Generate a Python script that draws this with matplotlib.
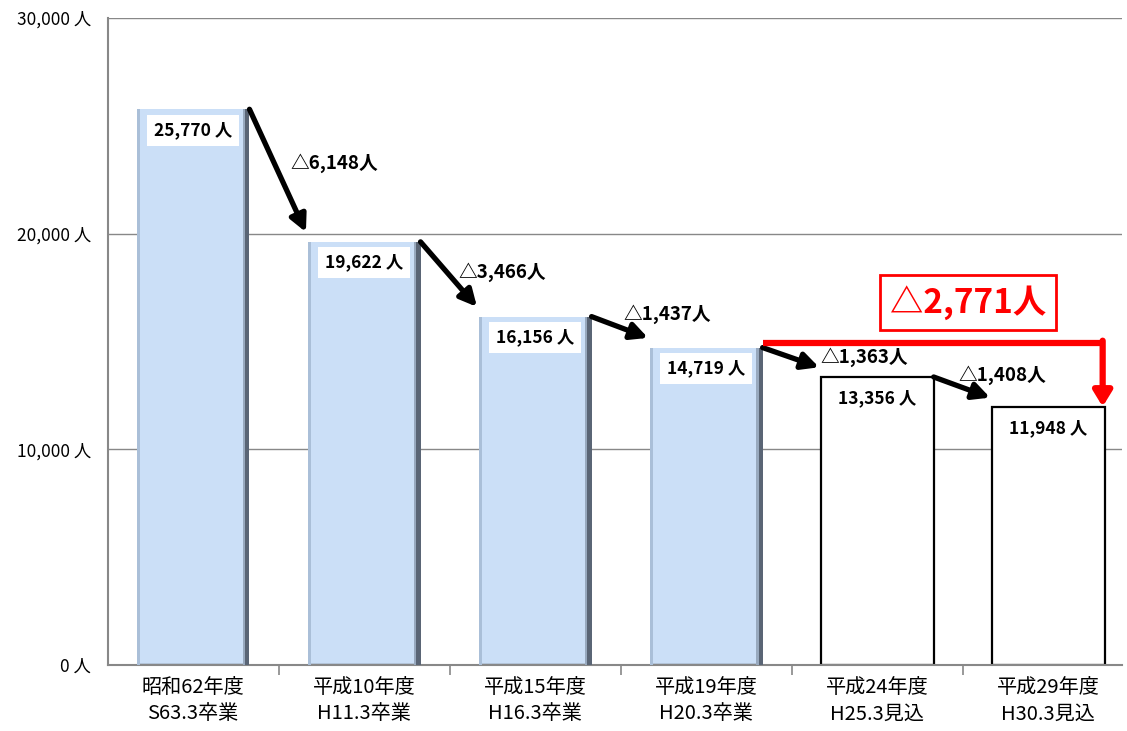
import matplotlib
matplotlib.use("Agg")
import matplotlib.pyplot as plt
import numpy as np

plt.rcParams['font.family'] = ['Noto Sans CJK JP', 'DejaVu Sans']

# data
categories = ["昭和62年度\nS63.3卒業", "平成10年度\nH11.3卒業", "平成15年度\nH16.3卒業",
              "平成19年度\nH20.3卒業", "平成24年度\nH25.3見込", "平成29年度\nH30.3見込"]
values = [25770, 19622, 16156, 14719, 13356, 11948]
actual = [True, True, True, True, False, False]
yticks = [0, 10000, 20000, 30000]
ytick_labels = ["0 人", "10,000 人", "20,000 人", "30,000 人"]

fig = plt.figure(figsize=(11.27, 7.31), dpi=100)
ax = fig.add_axes([0.0954, 0.0903, 0.9, 0.885])

x = np.arange(len(values))
w = 0.66
blue = [v if a else 0 for v, a in zip(values, actual)]
white = [v if not a else 0 for v, a in zip(values, actual)]

# blue bars with a rough bevel
ax.bar(x, blue, width=w, color='#cbdff7', edgecolor='none', zorder=2)
ax.bar(x - w/2 + 0.01, blue, width=0.02, color='#aabfd8', edgecolor='none', zorder=3)
ax.bar(x + w/2 - 0.012, blue, width=0.024, color='#5a6575', edgecolor='none', zorder=3)
ax.bar(x + w/2 - 0.032, blue, width=0.016, color='#98a9be', edgecolor='none', zorder=3)
# projected bars
ax.bar(x, white, width=w, color='white', edgecolor='black', linewidth=1.6, zorder=2)

# value labels
for i, v in enumerate(values):
    ax.annotate(f"{v:,} 人", (i, v), xytext=(0, -15), textcoords='offset points',
                ha='center', va='center', fontsize=12.5, fontweight='bold', zorder=5,
                bbox=dict(boxstyle='square,pad=0.38', fc='white', ec='none'))

# step arrows + differences
for i in range(len(values) - 1):
    ax.annotate("", xy=(i + 1 - w/2 - 0.01, values[i + 1] + 450),
                xytext=(i + w/2, values[i]),
                arrowprops=dict(arrowstyle='-|>,head_length=1.0,head_width=0.5',
                                color='black', lw=3.8, shrinkA=0, shrinkB=0),
                zorder=6)

dlabel_pos = [(0.567, 23270), (1.55, 18220), (2.515, 16270), (3.667, 14280), (4.474, 13445)]
for i, (px, py) in enumerate(dlabel_pos):
    d = values[i] - values[i + 1]
    ax.text(px, py, f"△{d:,}人", fontsize=13.5, fontweight='bold', ha='left', va='center', zorder=6)

# overall decrease (red)
ry = values[3] + 210
x_end = 5 + w/2 - 0.012
ax.plot([3 + w/2, x_end + 0.012], [ry, ry], color='red', lw=4.5, solid_capstyle='butt', zorder=7)
ax.annotate("", xy=(x_end, values[5] + 30), xytext=(x_end, ry + 110),
            arrowprops=dict(arrowstyle='-|>,head_length=0.9,head_width=0.55',
                            color='red', lw=4.5, shrinkA=0, shrinkB=0), zorder=7)
total = values[3] - values[5]
ax.text(4.532, 16800, f"△{total:,}人", color='red', fontsize=24, fontweight='bold',
        ha='center', va='center', zorder=7,
        bbox=dict(boxstyle='square,pad=0.3', fc='white', ec='red', lw=2))

# axes
ax.set_xlim(-0.5, 5.43)
ax.set_ylim(0, 30000)
ax.set_yticks(yticks)
ax.set_yticklabels(ytick_labels, fontsize=12.5)
ax.tick_params(axis='y', length=0, pad=12)
ax.set_xticks(x)
ax.set_xticklabels(categories, fontsize=14.5, linespacing=1.3)
ax.tick_params(axis='x', length=0, pad=9)
ax.set_xticks(np.arange(0.5, len(values) - 1, 1), minor=True)
ax.tick_params(axis='x', which='minor', length=7, width=1.2, color='#888888', direction='out')
ax.grid(axis='y', color='#888888', lw=1, zorder=0)
ax.set_axisbelow(True)
for s in ['top', 'right']:
    ax.spines[s].set_visible(False)
ax.spines['left'].set_color('#888888')
ax.spines['bottom'].set_color('#888888')
ax.spines['left'].set_linewidth(1.5)
ax.spines['bottom'].set_linewidth(1.5)

fig.savefig("out.png", dpi=100)
